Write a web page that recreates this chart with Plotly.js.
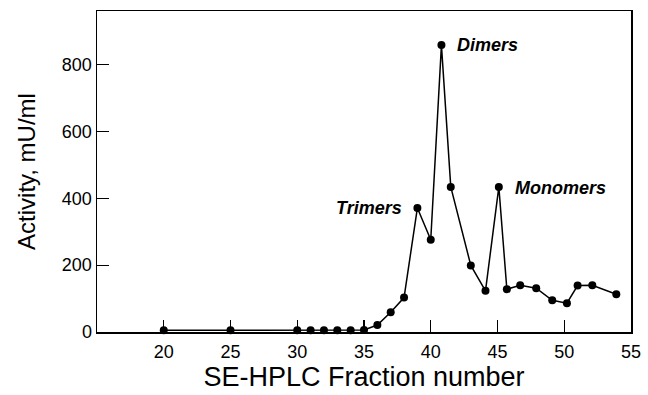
<!DOCTYPE html>
<html>
<head>
<meta charset="utf-8">
<script src="https://cdn.plot.ly/plotly-3.0.1.min.js"></script>
<style>html,body{margin:0;padding:0;background:#fff}#chart{width:648px;height:395px}</style>
</head>
<body>
<div id="chart"></div>
<script>
const fractions = [20, 25, 30, 31, 32, 33, 34, 35, 36, 37, 38, 39, 40, 40.8, 41.5, 43, 44.1, 45.1, 45.7, 46.7, 47.9, 49.1, 50.2, 51, 52.1, 53.9];
const activity  = [5, 5, 5, 5, 5, 5, 5, 6, 21, 59, 103, 371, 276, 858, 434, 199, 123, 434, 128, 140, 131, 95, 86, 139, 140, 113];
const xTicks = [20, 25, 30, 35, 40, 45, 50, 55];
const yTicks = [0, 200, 400, 600, 800];
const peakLabels = ["Dimers", "Monomers", "Trimers"];
const peakX = [40.8, 45.1, 39];
const peakY = [858, 434, 371];

const font = "Liberation Sans, Arial, Helvetica, sans-serif";
const trace = {
  x: fractions, y: activity, type: "scatter", mode: "lines+markers",
  line: {color: "#000", width: 1.5},
  marker: {color: "#000", size: 8},
  cliponaxis: false, hoverinfo: "none"
};
const anns = [
  {x: peakX[0], y: peakY[0], text: peakLabels[0], xanchor: "left", xshift: 14, yshift: 0},
  {x: peakX[1], y: peakY[1], text: peakLabels[1], xanchor: "left", xshift: 14, yshift: -1},
  {x: peakX[2], y: peakY[2], text: peakLabels[2], xanchor: "right", xshift: -13, yshift: 0}
].map(a => Object.assign(a, {
  xref: "x", yref: "y", showarrow: false, yanchor: "middle",
  text: "<b><i>" + a.text + "</i></b>",
  font: {family: font, size: 18, color: "#000"}
}));

const layout = {
  width: 648, height: 395,
  margin: {l: 97, r: 17, t: 11, b: 63},
  paper_bgcolor: "#fff", plot_bgcolor: "#fff",
  showlegend: false,
  xaxis: {
    range: [15, 55], tickvals: xTicks, ticktext: xTicks.map(String),
    ticks: "inside", ticklen: 12, tickwidth: 1.2, tickcolor: "#000",
    showline: true, linecolor: "#000", linewidth: 1.5, mirror: true,
    showgrid: false, zeroline: false,
    ticklabelstandoff: 3,
    tickfont: {family: font, size: 18, color: "#000"},
    title: {text: "SE-HPLC Fraction number", font: {family: font, size: 27, color: "#000"}, standoff: 4}
  },
  yaxis: {
    range: [0, 960], tickvals: yTicks, ticktext: yTicks.map(String),
    ticks: "inside", ticklen: 12, tickwidth: 1.2, tickcolor: "#000",
    showline: true, linecolor: "#000", linewidth: 1.5, mirror: true,
    showgrid: false, zeroline: false,
    ticklabelstandoff: 0,
    tickfont: {family: font, size: 18, color: "#000"},
    title: {text: "Activity, mU/ml", font: {family: font, size: 24, color: "#000"}, standoff: 19}
  },
  annotations: anns
};
Plotly.newPlot("chart", [trace], layout, {staticPlot: true, displayModeBar: false});
</script>
</body>
</html>
